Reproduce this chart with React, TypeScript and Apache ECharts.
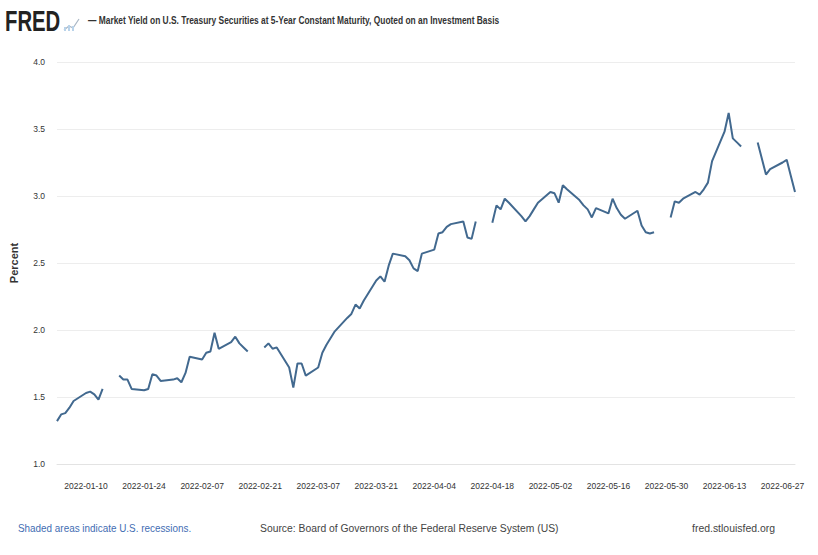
import React, { useEffect, useRef } from "react";
import * as echarts from "echarts";

// [date, yield %]; null = market holiday (no observation)
const janData: [string, number | null][] = [
  ["2022-01-03", 1.32], ["2022-01-04", 1.37], ["2022-01-05", 1.38], ["2022-01-06", 1.42],
  ["2022-01-07", 1.47], ["2022-01-10", 1.53], ["2022-01-11", 1.54], ["2022-01-12", 1.52],
  ["2022-01-13", 1.48], ["2022-01-14", 1.56], ["2022-01-17", null], ["2022-01-18", 1.66],
  ["2022-01-19", 1.63], ["2022-01-20", 1.63], ["2022-01-21", 1.56], ["2022-01-24", 1.55],
  ["2022-01-25", 1.56], ["2022-01-26", 1.67], ["2022-01-27", 1.66], ["2022-01-28", 1.62],
  ["2022-01-31", 1.63],
];
const febData: [string, number | null][] = [
  ["2022-02-01", 1.64], ["2022-02-02", 1.61], ["2022-02-03", 1.68], ["2022-02-04", 1.80],
  ["2022-02-07", 1.78], ["2022-02-08", 1.83], ["2022-02-09", 1.84], ["2022-02-10", 1.98],
  ["2022-02-11", 1.86], ["2022-02-14", 1.91], ["2022-02-15", 1.95], ["2022-02-16", 1.90],
  ["2022-02-17", 1.87], ["2022-02-18", 1.84], ["2022-02-21", null], ["2022-02-22", 1.87],
  ["2022-02-23", 1.90], ["2022-02-24", 1.86], ["2022-02-25", 1.87], ["2022-02-28", 1.72],
];
const marData: [string, number | null][] = [
  ["2022-03-01", 1.57], ["2022-03-02", 1.75], ["2022-03-03", 1.75], ["2022-03-04", 1.66],
  ["2022-03-07", 1.72], ["2022-03-08", 1.83], ["2022-03-09", 1.89], ["2022-03-10", 1.94],
  ["2022-03-11", 1.99], ["2022-03-14", 2.09], ["2022-03-15", 2.12], ["2022-03-16", 2.19],
  ["2022-03-17", 2.16], ["2022-03-18", 2.22], ["2022-03-21", 2.37], ["2022-03-22", 2.40],
  ["2022-03-23", 2.36], ["2022-03-24", 2.48], ["2022-03-25", 2.57], ["2022-03-28", 2.55],
  ["2022-03-29", 2.52], ["2022-03-30", 2.46], ["2022-03-31", 2.44],
];
const aprData: [string, number | null][] = [
  ["2022-04-01", 2.57], ["2022-04-04", 2.60], ["2022-04-05", 2.72], ["2022-04-06", 2.73],
  ["2022-04-07", 2.77], ["2022-04-08", 2.79], ["2022-04-11", 2.81], ["2022-04-12", 2.69],
  ["2022-04-13", 2.68], ["2022-04-14", 2.81], ["2022-04-15", null], ["2022-04-18", 2.80],
  ["2022-04-19", 2.93], ["2022-04-20", 2.90], ["2022-04-21", 2.98], ["2022-04-22", 2.95],
  ["2022-04-25", 2.85], ["2022-04-26", 2.81], ["2022-04-27", 2.85], ["2022-04-28", 2.90],
  ["2022-04-29", 2.95],
];
const mayData: [string, number | null][] = [
  ["2022-05-02", 3.03], ["2022-05-03", 3.02], ["2022-05-04", 2.95], ["2022-05-05", 3.08],
  ["2022-05-06", 3.05], ["2022-05-09", 2.97], ["2022-05-10", 2.93], ["2022-05-11", 2.90],
  ["2022-05-12", 2.84], ["2022-05-13", 2.91], ["2022-05-16", 2.87], ["2022-05-17", 2.98],
  ["2022-05-18", 2.91], ["2022-05-19", 2.86], ["2022-05-20", 2.83], ["2022-05-23", 2.89],
  ["2022-05-24", 2.78], ["2022-05-25", 2.73], ["2022-05-26", 2.72], ["2022-05-27", 2.73],
  ["2022-05-30", null], ["2022-05-31", 2.84],
];
const junData: [string, number | null][] = [
  ["2022-06-01", 2.96], ["2022-06-02", 2.95], ["2022-06-03", 2.98], ["2022-06-06", 3.03],
  ["2022-06-07", 3.01], ["2022-06-08", 3.05], ["2022-06-09", 3.10], ["2022-06-10", 3.26],
  ["2022-06-13", 3.48], ["2022-06-14", 3.62], ["2022-06-15", 3.43], ["2022-06-16", 3.40],
  ["2022-06-17", 3.37], ["2022-06-20", null], ["2022-06-21", 3.40], ["2022-06-22", 3.28],
  ["2022-06-23", 3.16], ["2022-06-24", 3.20], ["2022-06-27", 3.25], ["2022-06-28", 3.27],
  ["2022-06-29", 3.15], ["2022-06-30", 3.03],
];

const yTicks = [1.0, 1.5, 2.0, 2.5, 3.0, 3.5, 4.0];
const xStart = "2022-01-03";
const xEnd = "2022-06-30";
const labelAnchor = "2022-01-10"; // labels every 14 days from here

const DAY = 86400000;
const toMs = (s: string) => {
  const [y, m, d] = s.split("-").map(Number);
  return Date.UTC(y, m - 1, d);
};
const anchorMs = toMs(labelAnchor);
const dayOff = (s: string) => Math.round((toMs(s) - anchorMs) / DAY);
const fmtDay = (v: number) => {
  const dt = new Date(anchorMs + v * DAY);
  const mm = String(dt.getUTCMonth() + 1).padStart(2, "0");
  const dd = String(dt.getUTCDate()).padStart(2, "0");
  return `${dt.getUTCFullYear()}-${mm}-${dd}`;
};

const FONT = "'Liberation Sans', Arial, sans-serif";

export default function App() {
  const ref = useRef<HTMLDivElement>(null);
  useEffect(() => {
    if (!ref.current) return;
    const chart = echarts.init(ref.current, undefined, { renderer: "svg" });
    const all = [...janData, ...febData, ...marData, ...aprData, ...mayData, ...junData];
    const seriesData = all.map(([d, v]) => [dayOff(d), v === null ? "-" : v]);

    const txt = (x: number, y: number, text: string, fontSize: number, fill: string, scaleX: number, fontWeight = "normal") => ({
      type: "text",
      x,
      y,
      scaleX,
      originX: 0,
      originY: 0,
      style: { x: 0, y: 0, text, fontSize, fontWeight, fontFamily: FONT, fill, verticalAlign: "middle", align: "left" },
    });

    chart.setOption({
      animation: false,
      backgroundColor: "#ffffff",
      grid: { left: 53, right: 23, top: 62, bottom: 91, containLabel: false },
      xAxis: {
        type: "value",
        min: dayOff(xStart),
        max: dayOff(xEnd),
        interval: 7,
        axisLine: { show: true, lineStyle: { color: "#e3e3e3", width: 1 } },
        axisTick: { show: false },
        splitLine: { show: false },
        axisLabel: {
          margin: 17,
          fontSize: 8.5,
          fontFamily: FONT,
          color: "#333",
          showMaxLabel: false,
          formatter: (v: number) => (v % 14 === 0 && v >= 0 ? fmtDay(v) : ""),
        },
      },
      yAxis: {
        type: "value",
        min: yTicks[0],
        max: yTicks[yTicks.length - 1],
        interval: 0.5,
        name: "Percent",
        nameLocation: "middle",
        nameGap: 38,
        nameTextStyle: { fontSize: 11, fontWeight: "bold", color: "#333", fontFamily: FONT },
        axisLine: { show: false },
        axisTick: { show: false },
        splitLine: { show: true, lineStyle: { color: "#ededed", width: 1 } },
        axisLabel: {
          margin: 12,
          fontSize: 8.5,
          fontFamily: FONT,
          color: "#333",
          formatter: (v: number) => v.toFixed(1),
        },
      },
      series: [
        {
          type: "line",
          data: seriesData,
          showSymbol: false,
          connectNulls: false,
          lineStyle: { color: "#42698f", width: 2 },
          itemStyle: { color: "#42698f" },
        },
      ],
      graphic: [
        txt(5, 21, "FRED", 29, "#222", 0.7, "bold"),
        {
          type: "polyline",
          shape: { points: [[64, 30], [69, 26], [73, 28], [79, 19]] },
          style: { stroke: "#a9b6c4", lineWidth: 1.2, fill: "none" },
        },
        { type: "rect", shape: { x: 64, y: 27, width: 2, height: 4 }, style: { fill: "#b9d3ea" } },
        { type: "rect", shape: { x: 68, y: 25, width: 2, height: 6 }, style: { fill: "#b9d3ea" } },
        { type: "rect", shape: { x: 72, y: 26, width: 2, height: 5 }, style: { fill: "#b9d3ea" } },
        txt(88, 20, "— Market Yield on U.S. Treasury Securities at 5-Year Constant Maturity, Quoted on an Investment Basis", 10.5, "#333", 0.8, "bold"),
        txt(18, 528, "Shaded areas indicate U.S. recessions.", 11, "#3f6db3", 0.9),
        txt(260, 528, "Source: Board of Governors of the Federal Reserve System (US)", 11.5, "#444", 0.9),
        txt(692, 528, "fred.stlouisfed.org", 11, "#444", 0.95),
      ],
    });
    return () => chart.dispose();
  }, []);

  return (
    <div
      ref={ref}
      style={{ position: "fixed", left: 0, top: 0, width: 818, height: 555, background: "#fff" }}
    />
  );
}
